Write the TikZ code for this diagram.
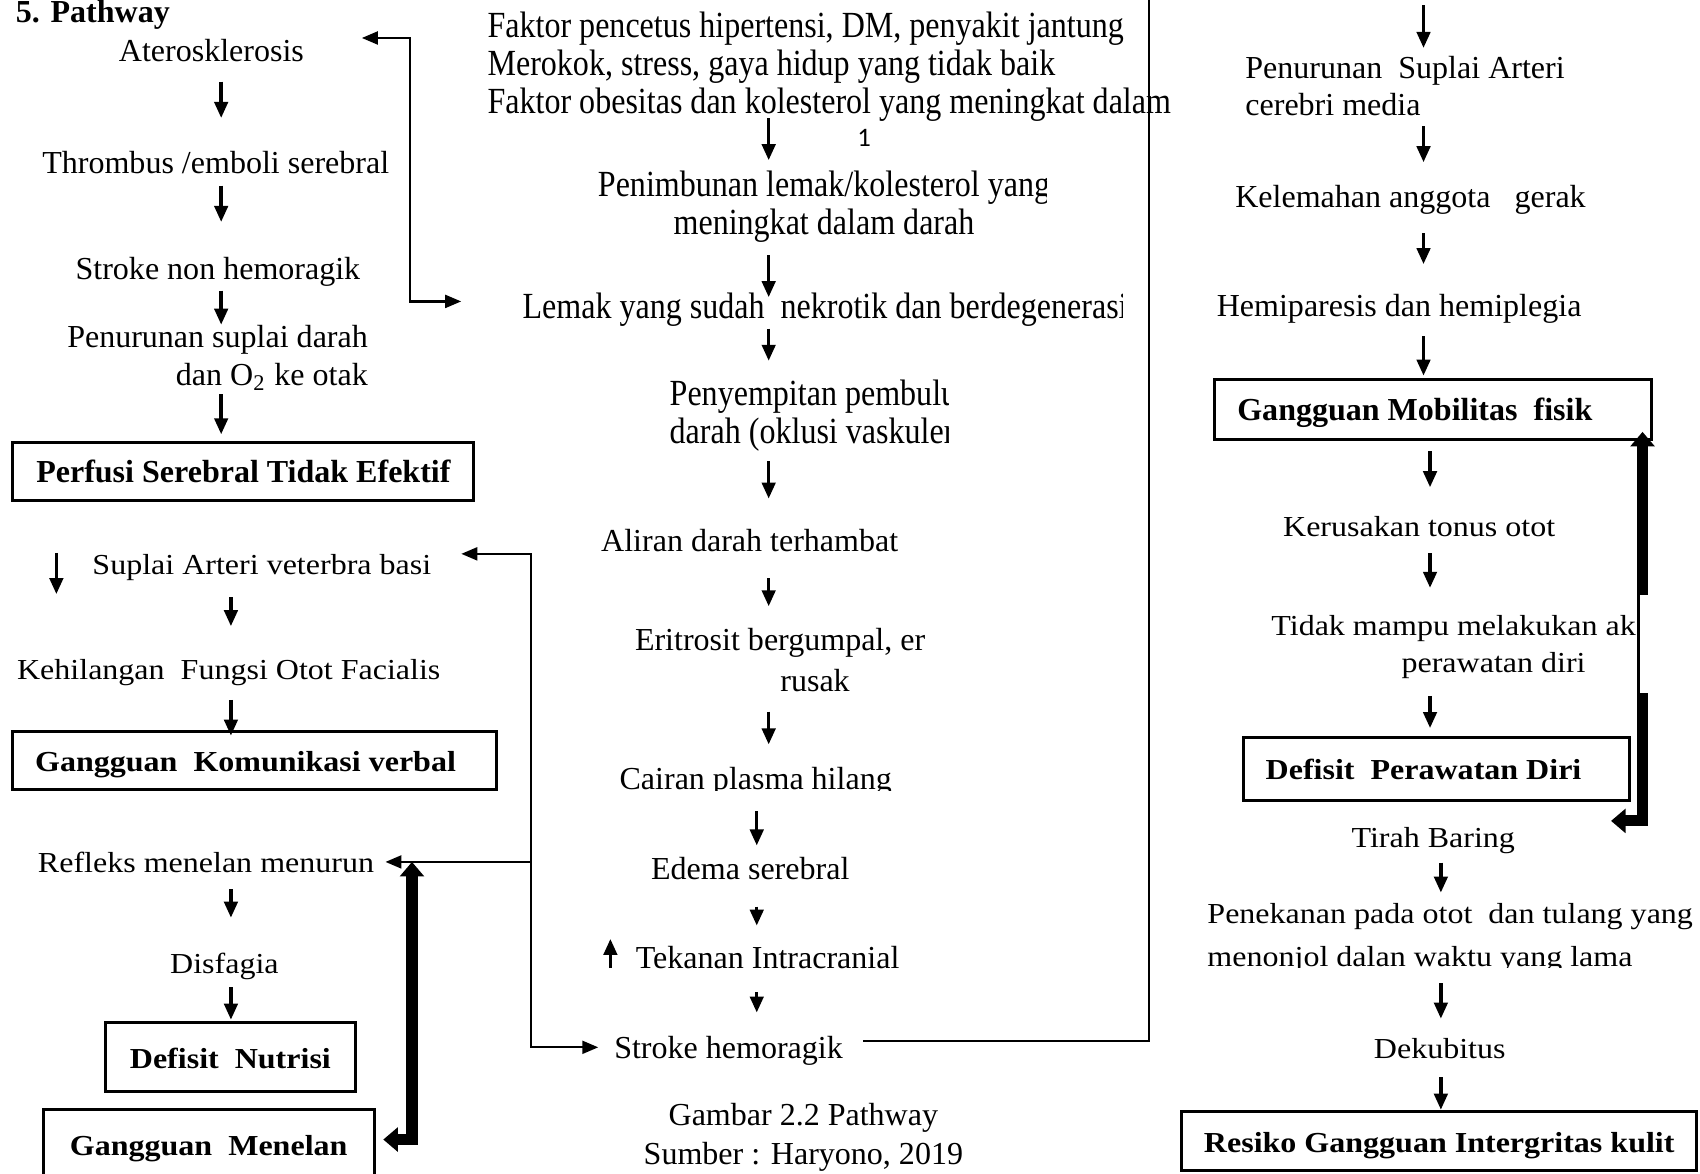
\documentclass[tikz,border=0pt]{standalone}
\usepackage{fontspec}
\setmainfont{Liberation Serif}
\newfontfamily\hurufTinggi[FakeStretch=0.87]{Liberation Serif}
\newfontfamily\hurufLebar[FakeStretch=1.105]{Liberation Serif}
\newfontfamily\hurufCalibri{Carlito}
\usetikzlibrary{arrows.meta}

\newcommand{\teksbiasa}{\fontsize{8.4}{10}\selectfont}
\newcommand{\tekstinggi}{\hurufTinggi\fontsize{9.66}{10}\selectfont}
\newcommand{\tekslebar}{\hurufLebar\fontsize{7.6}{9.67}\selectfont}

\begin{document}
\begin{tikzpicture}[x=0.01cm, y=-0.01cm, >=latex]

% --- Styles ---
\tikzset{
    teks/.style={inner sep=0pt, font=\teksbiasa, text height=1.5ex, text depth=.25ex},
    tekstinggi/.style={inner sep=0pt, font=\tekstinggi, text height=1.5ex, text depth=.25ex},
    tekslebar/.style={inner sep=0pt, font=\tekslebar, text height=1.5ex, text depth=.25ex},
    multi/.style={inner sep=0pt, align=left},
    kotak/.style={draw, line width=0.8pt, inner sep=0pt, text height=1.5ex, text depth=.25ex},
    jarak/.style 2 args={shorten <=#1, shorten >=#2},
    panah/.style={-{Triangle[width=3.5pt,length=4.2pt]}, line width=0.9pt},
    garis/.style={line width=0.6pt},
    panahtipis/.style={garis, {Triangle[width=3.4pt,length=4.2pt]}-{Triangle[width=3.4pt,length=4.2pt]}},
    panahtebal/.style={line width=2.9pt, {Triangle[width=6.2pt,length=3.8pt]}-{Triangle[width=6.2pt,length=3.8pt]}}
}

\useasboundingbox (0,0) rectangle (1568,1082);

% --- Kolom kiri atas ---
\node[teks, font=\teksbiasa\bfseries, anchor=base west] (judul) at (14,21) {5. Pathway};
\node[teks] (ater)   at (195,47)  {Aterosklerosis};
\node[teks] (thromb) at (199,150) {Thrombus /emboli serebral};
\node[teks] (snh)    at (201,248) {Stroke non hemoragik};
\node[multi, font=\teksbiasa, align=right, anchor=east] (pensup) at (340,330)
    {Penurunan suplai darah\\dan O\textsubscript{2} ke otak};
\node[kotak, font=\teksbiasa\bfseries, minimum width=4.25cm, minimum height=0.54cm] (perfusi)
    at (224.5,435) {Perfusi Serebral Tidak Efektif};

% --- Kolom tengah ---
\node[multi, font=\tekstinggi, anchor=north west] (faktor) at (449,10)
    {Faktor pencetus hipertensi, DM, penyakit jantung\\Merokok, stress, gaya hidup yang tidak baik\\Faktor obesitas dan kolesterol yang meningkat dalam};
\node[inner sep=0pt, font=\hurufCalibri\fontsize{7}{8}\selectfont] (hal) at (797,127) {1};
\begin{scope}
    \clip (540,150) rectangle (965,240);
    \node[multi, align=center, font=\tekstinggi] (penimb) at (760,191)
        {Penimbunan lemak/kolesterol yang\\meningkat dalam darah};
\end{scope}
\begin{scope}
    \clip (470,260) rectangle (1035,305);
    \node[tekstinggi] (lemak) at (761,284) {Lemak yang sudah~ nekrotik dan berdegenerasi};
\end{scope}
\begin{scope}
    \clip (600,340) rectangle (875,430);
    \node[multi, font=\tekstinggi, anchor=west] (penyemp) at (617,383)
        {Penyempitan pembulu\\darah (oklusi vaskuler};
\end{scope}
\node[teks] (aliran) at (691.5,499) {Aliran darah terhambat};
\node[multi, font=\fontsize{8.4}{10.8}\selectfont, anchor=west] (eritro) at (585,609)
    {Eritrosit bergumpal, er\\\hspace*{1.34cm}rusak};
\begin{scope}
    \clip (560,690) rectangle (840,729);
    \node[teks] (cairan) at (697,718) {Cairan plasma hilang};
\end{scope}
\node[teks] (edema)   at (692,801) {Edema serebral};
\node[teks] (tekanan) at (708,883) {Tekanan Intracranial};
\node[teks] (sh)      at (672,966) {Stroke hemoragik};
\node[multi, align=center, font=\teksbiasa] (gambar) at (741,1049)
    {Gambar 2.2 Pathway\\Sumber : Haryono, 2019};

% --- Kolom kiri bawah ---
\coordinate (turunA) at (52,510);
\coordinate (turunB) at (52,548);
\node[tekslebar] (suplai)   at (241.5,520) {Suplai Arteri veterbra basi};
\node[tekslebar] (kehil)    at (211,617)   {Kehilangan~ Fungsi Otot Facialis};
\node[kotak, font=\tekslebar\bfseries, minimum width=4.46cm, minimum height=0.53cm] (komun)
    at (235,701.5) {Gangguan~ Komunikasi verbal\kern0.17cm};
\node[tekslebar] (refleks)  at (190,795)   {Refleks menelan menurun};
\node[tekslebar] (disfagia) at (207,888)   {Disfagia};
\node[kotak, font=\tekslebar\bfseries, minimum width=2.31cm, minimum height=0.64cm] (nutrisi)
    at (212.5,975) {Defisit~ Nutrisi};
\node[kotak, font=\tekslebar\bfseries, minimum width=3.05cm, minimum height=0.66cm] (menelan)
    at (192.5,1056) {Gangguan~ Menelan};

% --- Kolom kanan ---
\coordinate (atasR) at (1313,5);
\node[multi, font=\fontsize{8.4}{9.67}\selectfont, anchor=west] (penur) at (1148,79)
    {Penurunan~ Suplai Arteri\\cerebri media};
\node[teks] (kelem) at (1301,181)   {Kelemahan anggota~~ gerak};
\node[teks] (hemip) at (1290.5,282) {Hemiparesis dan hemiplegia};
\node[kotak, font=\teksbiasa\bfseries, minimum width=4.03cm, minimum height=0.55cm] (mobil)
    at (1321.5,377.5) {Gangguan Mobilitas~ fisik\kern0.33cm};
\node[tekslebar] (kerus) at (1309,485) {Kerusakan tonus otot};
\node[multi, font=\tekslebar, anchor=west] (tidak) at (1172,597)
    {Tidak mampu melakukan ak\\\hspace*{1.2cm}perawatan diri};
\node[kotak, font=\tekslebar\bfseries, minimum width=3.56cm, minimum height=0.58cm] (perdiri)
    at (1325,709) {Defisit~ Perawatan Diri\kern0.24cm};
\node[tekslebar] (tirah) at (1322,772) {Tirah Baring};
\begin{scope}
    \clip (1100,820) rectangle (1580,892);
    \node[multi, font=\hurufLebar\fontsize{7.6}{11.4}\selectfont, anchor=west] (penek) at (1113,865)
        {Penekanan pada otot~ dan tulang yang\\menonjol dalan waktu yang lama};
\end{scope}
\node[tekslebar] (dekub) at (1328,966) {Dekubitus};
\node[kotak, font=\tekslebar\bfseries, minimum width=4.75cm, minimum height=0.55cm] (resiko)
    at (1327.5,1052.5) {Resiko Gangguan Intergritas kulit};

% --- Panah kolom kiri atas ---
\coordinate (kolA) at (204,0);
\draw[panah, jarak={3.8pt}{7.5pt}] (ater.south -| kolA) -- (thromb.north -| kolA);
\draw[panah, jarak={1.8pt}{8.1pt}] (thromb.south -| kolA) -- (snh.north -| kolA);
\draw[panah, jarak={1.5pt}{0pt}] (snh.south -| kolA) -- (pensup.north -| kolA);
\draw[panah, jarak={0.9pt}{1.7pt}] (pensup.south -| kolA) -- (perfusi.north -| kolA);

% Aterosklerosis <-> Lemak
\coordinate (busA) at (378,150);
\draw[panahtipis, jarak={15pt}{15.9pt}] ([yshift=3.4pt]ater.east) -| (busA) |- ([yshift=1.7pt]lemak.west);

% --- Panah kolom tengah ---
\coordinate (kolM) at (709,0);
\coordinate (kolN) at (698,0);
\draw[panah, jarak={-1pt}{2.7pt}]  (faktor.south -| kolM) -- (penimb.north -| kolM);
\draw[panah, jarak={3pt}{-1.4pt}]  (penimb.south -| kolM) -- (lemak.north -| kolM);
\draw[panah, jarak={1.2pt}{4.7pt}] (lemak.south -| kolM) -- (penyemp.north -| kolM);
\draw[panah, jarak={2.5pt}{6.9pt}] (penyemp.south -| kolM) -- (aliran.north -| kolM);
\draw[panah, jarak={5.5pt}{5.6pt}] (aliran.south -| kolM) -- (eritro.north -| kolM);
\draw[panah, jarak={4.9pt}{4.7pt}] (eritro.south -| kolM) -- (cairan.north -| kolM);
\draw[panah, jarak={4.4pt}{1.8pt}] (cairan.south -| kolN) -- (edema.north -| kolN);
\draw[panah, jarak={5.8pt}{4.1pt}] (edema.south -| kolN) -- (tekanan.north -| kolN);
\draw[panah, jarak={4.9pt}{4.9pt}] (tekanan.south -| kolN) -- (sh.north -| kolN);

% tanda naik / turun
\coordinate (naikA) at (563,893);
\coordinate (naikB) at (563,866);
\draw[panah] (naikA) -- (naikB);
\draw[panah] (turunA) -- (turunB);

% Stroke hemoragik ke atas
\coordinate (atasM) at (1060,-10);
\draw[garis, shorten <=5.1pt] ([yshift=1.7pt]sh.east) -| (atasM);

% Stroke hemoragik <-> Suplai Arteri, cabang ke Refleks
\coordinate (busB) at (490,700);
\draw[panahtipis, jarak={7.7pt}{4pt}] ([yshift=2.6pt]suplai.east) -| (busB) |- (sh.west);
\draw[garis, -{Triangle[width=3.4pt,length=4.2pt]}, shorten >=2.8pt] (busB |- refleks.east) -- (refleks.east);

% --- Panah kolom kiri bawah ---
\coordinate (kolB) at (213,0);
\draw[panah, jarak={4.5pt}{7pt}]    (suplai.south -| kolB) -- (kehil.north -| kolB);
\draw[panah, jarak={3.9pt}{-1.4pt}] (kehil.south -| kolB) -- (komun.north -| kolB);
\draw[panah, jarak={3pt}{7.6pt}]    (refleks.south -| kolB) -- (disfagia.north -| kolB);
\draw[panah, jarak={2.2pt}{0.3pt}]  (disfagia.south -| kolB) -- (nutrisi.north -| kolB);

% Gangguan Menelan <-> Refleks menelan
\coordinate (busC) at (380,0);
\draw[panahtebal, shorten <=2pt] ([yshift=1.4pt]menelan.east) -| (busC |- refleks.east);

% --- Panah kolom kanan ---
\coordinate (kolR) at (1313,0);
\coordinate (kolS) at (1319,0);
\coordinate (kolT) at (1329,0);
\draw[panah, shorten >=1.9pt] (atasR) -- (penur.north -| atasR);
\draw[panah, jarak={2.6pt}{4.7pt}] (penur.south -| kolR) -- (kelem.north -| kolR);
\draw[panah, jarak={5.5pt}{6.7pt}] (kelem.south -| kolR) -- (hemip.north -| kolR);
\draw[panah, jarak={3.8pt}{0.6pt}] (hemip.south -| kolR) -- (mobil.north -| kolR);
\draw[panah, jarak={2.8pt}{5.9pt}] (mobil.south -| kolS) -- (kerus.north -| kolS);
\draw[panah, jarak={3pt}{7.1pt}]   (kerus.south -| kolS) -- (tidak.north -| kolS);
\draw[panah, jarak={4.3pt}{2pt}]   (tidak.south -| kolS) -- (perdiri.north -| kolS);
\draw[panah, jarak={2.5pt}{2.5pt}] (tirah.south -| kolT) -- (penek.north -| kolT);
\draw[panah, jarak={2.6pt}{3.3pt}] (penek.south -| kolT) -- (dekub.north -| kolT);
\draw[panah, jarak={3.6pt}{0pt}]   (dekub.south -| kolT) -- (resiko.north -| kolT);

% Gangguan Mobilitas <-> Tirah Baring
\coordinate (busD) at (1515,0);
\draw[panahtebal, jarak={-2.3pt}{25pt}] (mobil.south -| busD) -- (busD |- tirah.north east) -- (tirah.north east);
\fill[white] (1512.5,549) rectangle (1522,639);

\end{tikzpicture}
\end{document}
